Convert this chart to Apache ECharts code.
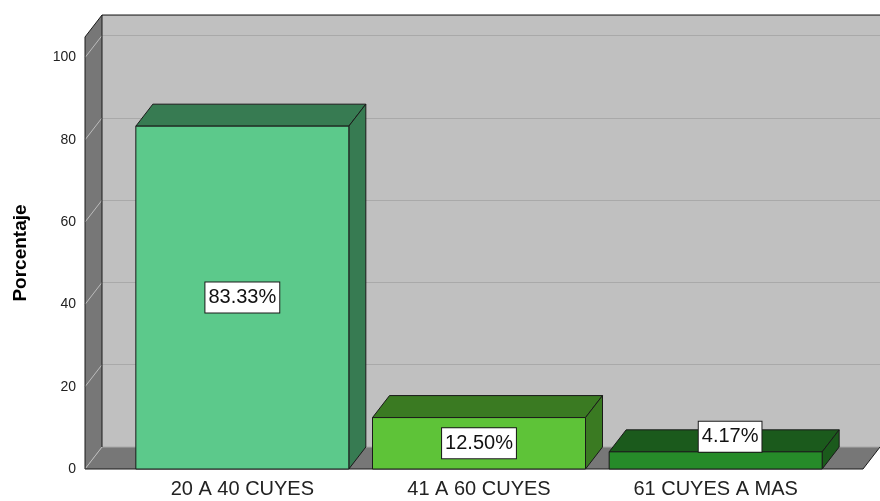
<!DOCTYPE html>
<html>
<head>
<meta charset="utf-8">
<script src="https://cdn.jsdelivr.net/npm/echarts@6/dist/echarts.min.js"></script>
<style>
  html, body { margin: 0; padding: 0; background: #fff; }
  #chart { width: 880px; height: 501px; }
</style>
</head>
<body>
<div id="chart"></div>
<script>
// datos
const categories = ['20 A 40 CUYES', '41 A 60 CUYES', '61 CUYES A MAS'];
const values = [83.33, 12.50, 4.17];
const labels = ['83.33%', '12.50%', '4.17%'];
const frontColors = ['#5cc98b', '#5ec338', '#268b29'];
const sideColors = ['#377b52', '#3a7a22', '#1b5a1c'];
const yTicks = [0, 20, 40, 60, 80, 100];

// profundidad del efecto 3D (px)
const DX = 17;
const DY = 22;
const FONT = '"Liberation Sans", Arial, sans-serif';

const chart = echarts.init(document.getElementById('chart'));

// paredes: pared lateral izquierda, piso, bordes y lineas diagonales
function renderWalls (params, api) {
  const p0 = api.coord([0, 0]);
  const pTop = api.coord([0, 105]);
  const pRight = api.coord([1, 0]);
  const pTopRight = api.coord([1, 105]);
  const off = (p) => [p[0] - DX, p[1] + DY];
  const edge = { stroke: '#1a1a1a', lineWidth: 1 };
  const children = [
    { type: 'polygon', shape: { points: [pTop, off(pTop), off(p0), p0] }, style: { fill: '#777777' } },
    { type: 'polygon', shape: { points: [p0, pRight, off(pRight), off(p0)] }, style: { fill: '#777777' } }
  ];
  yTicks.forEach((v) => {
    const p = api.coord([0, v]);
    children.push({ type: 'line', shape: { x1: p[0], y1: p[1], x2: p[0] - DX, y2: p[1] + DY }, style: { stroke: '#bcbcbc', lineWidth: 1 } });
  });
  children.push(
    { type: 'line', shape: { x1: p0[0], y1: p0[1], x2: pRight[0], y2: pRight[1] }, style: { stroke: '#a9a9a9', lineWidth: 1 } },
    { type: 'line', shape: { x1: pTop[0], y1: pTop[1], x2: p0[0], y2: p0[1] }, style: edge },
    { type: 'line', shape: { x1: pTop[0], y1: pTop[1], x2: pTopRight[0], y2: pTopRight[1] }, style: edge },
    { type: 'line', shape: { x1: pTop[0], y1: pTop[1], x2: pTop[0] - DX, y2: pTop[1] + DY }, style: edge },
    { type: 'line', shape: { x1: pTop[0] - DX, y1: pTop[1] + DY, x2: p0[0] - DX, y2: p0[1] + DY }, style: edge },
    { type: 'line', shape: { x1: p0[0] - DX, y1: p0[1] + DY, x2: pRight[0] - DX, y2: pRight[1] + DY }, style: edge },
    { type: 'line', shape: { x1: pRight[0], y1: pRight[1], x2: pRight[0] - DX, y2: pRight[1] + DY }, style: edge }
  );
  return { type: 'group', children: children };
}

// barras 3D con su etiqueta
function renderBar (params, api) {
  const i = params.dataIndex;
  const top = api.coord([api.value(0), api.value(1)]);
  const base = api.coord([api.value(0), 0]);
  const w = api.size([1, 0])[0] * 0.9;
  const x0 = top[0] - w / 2;
  const x1 = top[0] + w / 2;
  const h = base[1] - top[1];
  const edge = { stroke: '#1a1a1a', lineWidth: 1, lineJoin: 'miter' };
  const inside = h > 40;
  return {
    type: 'group',
    children: [
      { type: 'polygon', shape: { points: [[x0, top[1]], [x0 + DX, top[1] - DY], [x1 + DX, top[1] - DY], [x1, top[1]]] }, style: Object.assign({ fill: sideColors[i] }, edge) },
      { type: 'polygon', shape: { points: [[x1, top[1]], [x1 + DX, top[1] - DY], [x1 + DX, base[1] - DY], [x1, base[1]]] }, style: Object.assign({ fill: sideColors[i] }, edge) },
      { type: 'rect', shape: { x: x0, y: top[1], width: w, height: h }, style: Object.assign({ fill: frontColors[i] }, edge) },
      {
        type: 'text',
        z2: 10,
        style: {
          text: labels[i],
          x: inside ? top[0] : top[0] + DX * 0.85,
          y: inside ? top[1] + h / 2 : top[1],
          align: 'center',
          verticalAlign: inside ? 'middle' : 'bottom',
          fill: '#111',
          font: '20px ' + FONT,
          lineHeight: 22,
          backgroundColor: '#ffffff',
          borderColor: '#1a1a1a',
          borderWidth: 1,
          padding: [4, 3]
        }
      }
    ]
  };
}

const option = {
  animation: false,
  backgroundColor: '#ffffff',
  grid: [
    // pared del fondo
    { left: 102, width: 790, top: 15, bottom: 54, show: true, backgroundColor: '#c0c0c0', borderWidth: 0 },
    // plano frontal (barras)
    { left: 124, width: 710, top: 37, bottom: 32 }
  ],
  xAxis: [
    { type: 'value', gridIndex: 0, min: 0, max: 1, show: false },
    {
      type: 'category',
      gridIndex: 1,
      data: categories,
      axisLine: { show: false },
      axisTick: { show: false },
      axisLabel: { fontSize: 20, color: '#222', margin: 10, fontFamily: FONT }
    }
  ],
  yAxis: [
    {
      type: 'value',
      gridIndex: 0,
      min: 0,
      max: 105,
      interval: 20,
      axisLine: { show: false },
      axisTick: { show: false },
      axisLabel: { show: false },
      splitLine: { show: true, lineStyle: { color: '#a9a9a9', width: 1 } }
    },
    {
      type: 'value',
      gridIndex: 1,
      min: 0,
      max: 105,
      interval: 20,
      name: 'Porcentaje',
      nameLocation: 'middle',
      nameGap: 94,
      nameTextStyle: { fontSize: 19, fontWeight: 'bold', color: '#000', fontFamily: FONT },
      axisLine: { show: false },
      axisTick: { show: false },
      splitLine: { show: false },
      axisLabel: {
        margin: 48,
        fontSize: 14,
        color: '#222',
        fontFamily: FONT,
        showMaxLabel: false,
        formatter: (v) => (yTicks.indexOf(v) >= 0 ? String(v) : '')
      }
    }
  ],
  series: [
    {
      type: 'custom',
      xAxisIndex: 0,
      yAxisIndex: 0,
      z: 1,
      silent: true,
      data: [[0, 0]],
      renderItem: renderWalls
    },
    {
      type: 'custom',
      xAxisIndex: 1,
      yAxisIndex: 1,
      z: 3,
      data: values.map((v, i) => [i, v]),
      renderItem: renderBar
    }
  ]
};

chart.setOption(option);
</script>
</body>
</html>
